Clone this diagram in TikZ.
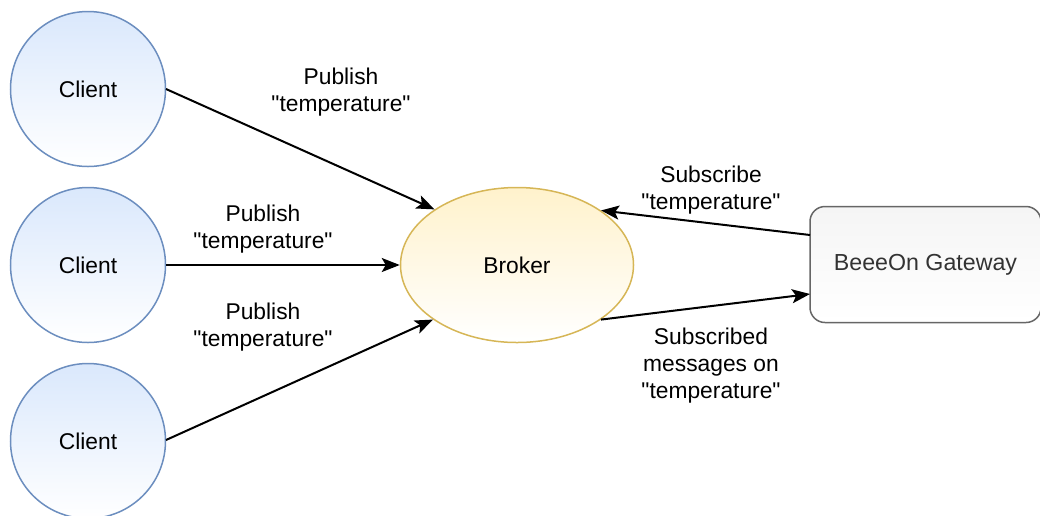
\documentclass[tikz,border=0pt]{standalone}
\usepackage{fontspec}
\setmainfont{Liberation Sans}[Ligatures=TeXOff]
\usetikzlibrary{arrows.meta,shapes.geometric}
\definecolor{cfill}{HTML}{DAE8FC}
\definecolor{cstroke}{HTML}{6C8EBF}
\definecolor{bfill}{HTML}{FFF2CC}
\definecolor{bstroke}{HTML}{D6B656}
\definecolor{gfill}{HTML}{F5F5F5}
\definecolor{gstroke}{HTML}{666666}
\definecolor{gtext}{HTML}{333333}
\tikzset{
  client/.style={circle, draw=cstroke, line width=1.5pt, top color=cfill, bottom color=white, minimum size=155pt, inner sep=0pt, font=\fontsize{22.8}{27}\selectfont},
  broker/.style={ellipse, draw=bstroke, line width=1.5pt, top color=bfill, bottom color=white, minimum width=233pt, minimum height=155pt, inner sep=0pt, font=\fontsize{22.8}{27}\selectfont},
  gateway/.style={rectangle, rounded corners=15pt, draw=gstroke, line width=1.5pt, top color=gfill, bottom color=white, minimum width=231pt, minimum height=116pt, inner sep=0pt, text=gtext, font=\fontsize{23.2}{27}\selectfont},
  lbl/.style={align=center, font=\fontsize{22.8}{27}\selectfont, inner sep=0pt},
  conn/.style={line width=2pt, -{Stealth[length=18pt,width=14pt,inset=4pt]}},
}
\begin{document}
\begin{tikzpicture}[x=1pt,y=-1pt]
\useasboundingbox (0,0) rectangle (1040,515);
\begin{scope}
\clip (0,0) rectangle (1040,515);
\node[client] (c1) at (88,89) {Client};
\node[client] (c2) at (88,265) {Client};
\node[client] (c3) at (88,441) {Client};
\node[broker] (b) at (517,265) {Broker};
\node[gateway] (g) at (925.5,264.5) {BeeeOn Gateway};
\end{scope}
\coordinate (c1e) at (166,89);
\coordinate (c3e) at (166,440);
\draw[conn] (c1e) -- (b.146.5);
\draw[conn] (c2) -- (b);
\draw[conn] (c3e) -- (b.213.5);
\coordinate (gtop) at (810,235);
\coordinate (gbot) at (810,294);
\draw[conn] (gtop) -- (b.33.5);
\draw[conn] (b.-33.5) -- (gbot);
\node[lbl] (l1) at (341,92) {Publish\\"temperature"};
\node[lbl] (l2) at (263,229) {Publish\\"temperature"};
\node[lbl] (l3) at (263,327) {Publish\\"temperature"};
\node[lbl] (l4) at (711,190) {Subscribe\\"temperature"};
\node[lbl] (l5) at (711,366) {Subscribed\\messages on\\"temperature"};
\end{tikzpicture}
\end{document}
